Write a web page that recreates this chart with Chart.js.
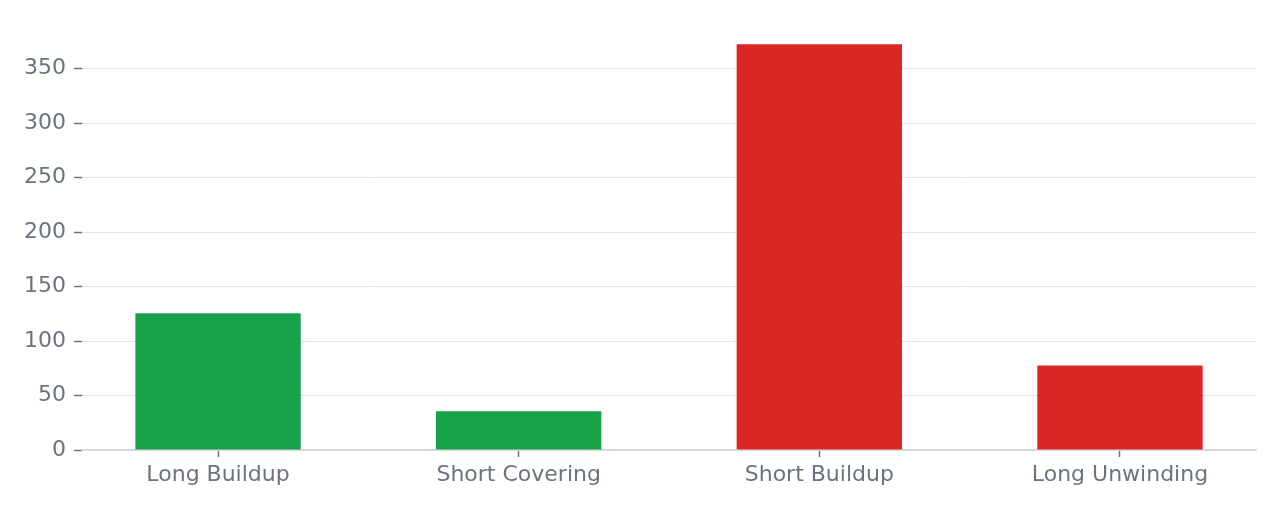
<!DOCTYPE html>
<html>
<head>
    <title>OI Buildup</title>
    <script src="https://cdn.jsdelivr.net/npm/chart.js"></script>
    <style>
        html, body { margin: 0; padding: 0; background: #fff; }
        #wrap { width: 1280px; height: 512px; }
    </style>
</head>
<body>
    <div id="wrap"><canvas id="buildupChart"></canvas></div>

    <script>
        // data
        const categories = ["Long Buildup", "Short Covering", "Short Buildup", "Long Unwinding"];
        const counts = [125.5, 35.5, 372.5, 77.5];
        const barColors = ["#18a34a", "#18a34a", "#dc2626", "#dc2626"];
        const yTicks = [0, 50, 100, 150, 200, 250, 300, 350];

        const textColor = "#6b7280";
        const font = { family: "'DejaVu Sans', sans-serif", size: 22 };

        let ctx = document.getElementById("buildupChart").getContext("2d");
        new Chart(ctx, {
            type: "bar",
            data: {
                datasets: [{
                    data: counts.map((v, i) => ({ x: i, y: v })),
                    backgroundColor: barColors,
                    borderWidth: 0,
                    barPercentage: 0.55,
                    categoryPercentage: 1
                }]
            },
            options: {
                animation: false,
                responsive: true,
                maintainAspectRatio: false,
                devicePixelRatio: 1,
                layout: { padding: { top: 24, right: 24, left: 0, bottom: 0 } },
                plugins: { legend: { display: false }, tooltip: { enabled: false } },
                scales: {
                    x: {
                        type: "linear",
                        offset: false,
                        min: -0.4525,
                        max: 3.4525,
                        afterBuildTicks: (scale) => { scale.ticks = categories.map((c, i) => ({ value: i })); },
                        afterFit: (scale) => { scale.height = 62; },
                        ticks: {
                            color: textColor,
                            font: font,
                            padding: 5,
                            maxRotation: 0,
                            callback: (v) => categories[v]
                        },
                        grid: { offset: false, drawOnChartArea: false, drawTicks: true, tickLength: 7, tickColor: textColor, tickWidth: 1.5 },
                        border: { display: true, color: "#d1d5db", width: 1.5 }
                    },
                    y: {
                        min: 0,
                        max: 391,
                        z: 1,
                        afterBuildTicks: (scale) => { scale.ticks = yTicks.map(v => ({ value: v })); },
                        afterFit: (scale) => { scale.width = 82; },
                        ticks: { color: textColor, font: font, padding: 8 },
                        grid: {
                            color: "rgba(215, 218, 224, 0.75)",
                            lineWidth: 1,
                            drawTicks: true,
                            tickLength: 8,
                            tickColor: textColor,
                            tickWidth: 1.5
                        },
                        border: { display: false }
                    }
                }
            }
        });
    </script>
</body>
</html>
